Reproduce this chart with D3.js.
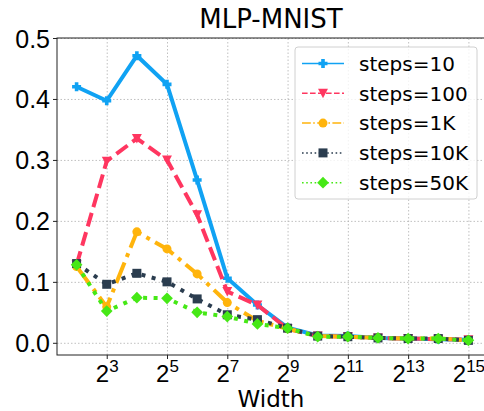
<!DOCTYPE html>
<html>
<head>
<meta charset="utf-8">
<script src="https://cdn.jsdelivr.net/npm/d3@7"></script>
<style>
  body { margin: 0; background: #fff; }
  svg { font-family: "DejaVu Sans", sans-serif; }
  .grid line { stroke: #b0b0b0; stroke-dasharray: 1.5,2; stroke-width: 0.8; }
  .grid .domain { display: none; }
</style>
</head>
<body>
<script>
// log2 of the width
var widths = [2, 3, 4, 5, 6, 7, 8, 9, 10, 11, 12, 13, 14, 15];
var xTicks = [3, 5, 7, 9, 11, 13, 15];
var yTicks = [0, 0.1, 0.2, 0.3, 0.4, 0.5];

var steps10  = [0.420, 0.397, 0.471, 0.424, 0.267, 0.106, 0.062, 0.025, 0.012, 0.011, 0.008, 0.007, 0.006, 0.005];
var steps100 = [0.128, 0.298, 0.335, 0.300, 0.210, 0.084, 0.062, 0.023, 0.011, 0.010, 0.008, 0.007, 0.006, 0.005];
var steps1K  = [0.125, 0.059, 0.182, 0.154, 0.113, 0.066, 0.036, 0.023, 0.011, 0.010, 0.008, 0.007, 0.007, 0.004];
var steps10K = [0.130, 0.096, 0.114, 0.100, 0.072, 0.046, 0.038, 0.024, 0.011, 0.010, 0.008, 0.007, 0.007, 0.004];
var steps50K = [0.128, 0.052, 0.074, 0.073, 0.050, 0.043, 0.031, 0.024, 0.010, 0.010, 0.008, 0.007, 0.007, 0.004];

var series = [
  {name: "steps=10",  values: steps10,  color: "#10a2f3", dash: null,       sym: "plus"},
  {name: "steps=100", values: steps100, color: "#ff3660", dash: "14,6",     sym: "tri"},
  {name: "steps=1K",  values: steps1K,  color: "#ffb40c", dash: "22,6,4,6", sym: "circle"},
  {name: "steps=10K", values: steps10K, color: "#2b3d4f", dash: "4,6.5",    sym: "square"},
  {name: "steps=50K", values: steps50K, color: "#46e816", dash: "4,6.5",    sym: "diamond"}
];

var svg = d3.select("body").append("svg")
  .attr("width", 484)
  .attr("height", 411);

var x = d3.scaleLinear().domain([1.35, 15.65]).range([57, 488]);
var y = d3.scaleLinear().domain([-0.02, 0.5]).range([355, 38]);

// grid
svg.append("g")
  .attr("class", "grid")
  .attr("transform", "translate(0,355)")
  .call(d3.axisBottom(x).tickValues(xTicks).tickSize(-317).tickFormat(""));
svg.append("g")
  .attr("class", "grid")
  .attr("transform", "translate(57,0)")
  .call(d3.axisLeft(y).tickValues(yTicks).tickSize(-431).tickFormat(""));

// frame
svg.append("rect")
  .attr("x", 57).attr("y", 38)
  .attr("width", 431).attr("height", 317)
  .attr("fill", "none").attr("stroke", "#222").attr("stroke-width", 1);

// axes
var xAxis = svg.append("g")
  .attr("transform", "translate(0,355)")
  .call(d3.axisBottom(x).tickValues(xTicks).tickSize(4).tickFormat(""));
xAxis.selectAll(".tick").append("text")
  .attr("fill", "#000")
  .attr("y", 27)
  .attr("text-anchor", "middle")
  .style("font-size", "24px")
  .each(function(d) {
    var t = d3.select(this);
    t.append("tspan").text("2");
    t.append("tspan").attr("dy", -10).style("font-size", "17px").text(d);
  });
xAxis.select(".domain").remove();

var yAxis = svg.append("g")
  .attr("transform", "translate(57,0)")
  .call(d3.axisLeft(y).tickValues(yTicks).tickSize(4).tickFormat(d3.format(".1f")));
yAxis.selectAll("text").style("font-size", "25px").attr("fill", "#000").attr("dy", "0.36em");
yAxis.select(".domain").remove();
svg.selectAll(".tick line").attr("stroke", "#222");

// labels
svg.append("text")
  .attr("x", 271).attr("y", 407)
  .attr("text-anchor", "middle")
  .style("font-size", "23px")
  .text("Width");
svg.append("text")
  .attr("x", 271).attr("y", 28)
  .attr("text-anchor", "middle")
  .style("font-size", "26px")
  .text("MLP-MNIST");

function marker(sel, s, size) {
  var h = size / 2, p;
  if (s.sym === "tri") {
    p = "M" + (-h * 1.1) + "," + (-h) + "L" + (h * 1.1) + "," + (-h) + "L0," + (h * 1.1) + "Z";
  } else if (s.sym === "diamond") {
    var r = h * 1.3;
    p = "M0," + (-r) + "L" + r + ",0L0," + r + "L" + (-r) + ",0Z";
  } else if (s.sym === "square") {
    p = "M" + (-h) + "," + (-h) + "h" + size + "v" + size + "h" + (-size) + "Z";
  } else if (s.sym === "circle") {
    p = d3.symbol().type(d3.symbolCircle).size(Math.PI * h * h)();
  } else {
    var a = h * 0.4;
    p = "M" + (-a) + "," + (-h) + "H" + a + "V" + (-a) + "H" + h + "V" + a + "H" + a + "V" + h +
        "H" + (-a) + "V" + a + "H" + (-h) + "V" + (-a) + "H" + (-a) + "Z";
  }
  sel.append("path").attr("d", p).attr("fill", s.color);
}

var line = d3.line()
  .x(function(d, i) { return x(widths[i]); })
  .y(function(d) { return y(d); });

series.forEach(function(s) {
  var g = svg.append("g");
  g.append("path")
    .datum(s.values)
    .attr("d", line)
    .attr("fill", "none")
    .attr("stroke", s.color)
    .attr("stroke-width", 4)
    .attr("stroke-dasharray", s.dash);
  g.selectAll(".m")
    .data(s.values)
    .enter().append("g")
    .attr("transform", function(d, i) { return "translate(" + x(widths[i]) + "," + y(d) + ")"; })
    .each(function() { marker(d3.select(this), s, 9); });
});

// legend
var lg = svg.append("g");
lg.append("rect")
  .attr("x", 295).attr("y", 47)
  .attr("width", 182).attr("height", 152)
  .attr("rx", 3)
  .attr("fill", "#fff").attr("fill-opacity", 0.8)
  .attr("stroke", "#d0d0d0");
series.forEach(function(s, i) {
  var yy = 63.5 + i * 29.8;
  lg.append("line")
    .attr("x1", 302).attr("x2", 344)
    .attr("y1", yy).attr("y2", yy)
    .attr("stroke", s.color)
    .attr("stroke-width", 1.5)
    .attr("stroke-dasharray", s.dash ? s.dash.split(",").map(function(v) { return v * 0.4; }).join(",") : null);
  var mg = lg.append("g").attr("transform", "translate(323," + yy + ")");
  marker(mg, s, 9);
  lg.append("text")
    .attr("x", 359).attr("y", yy)
    .attr("dy", "0.36em")
    .style("font-size", "20px")
    .text(s.name);
});
</script>
</body>
</html>
